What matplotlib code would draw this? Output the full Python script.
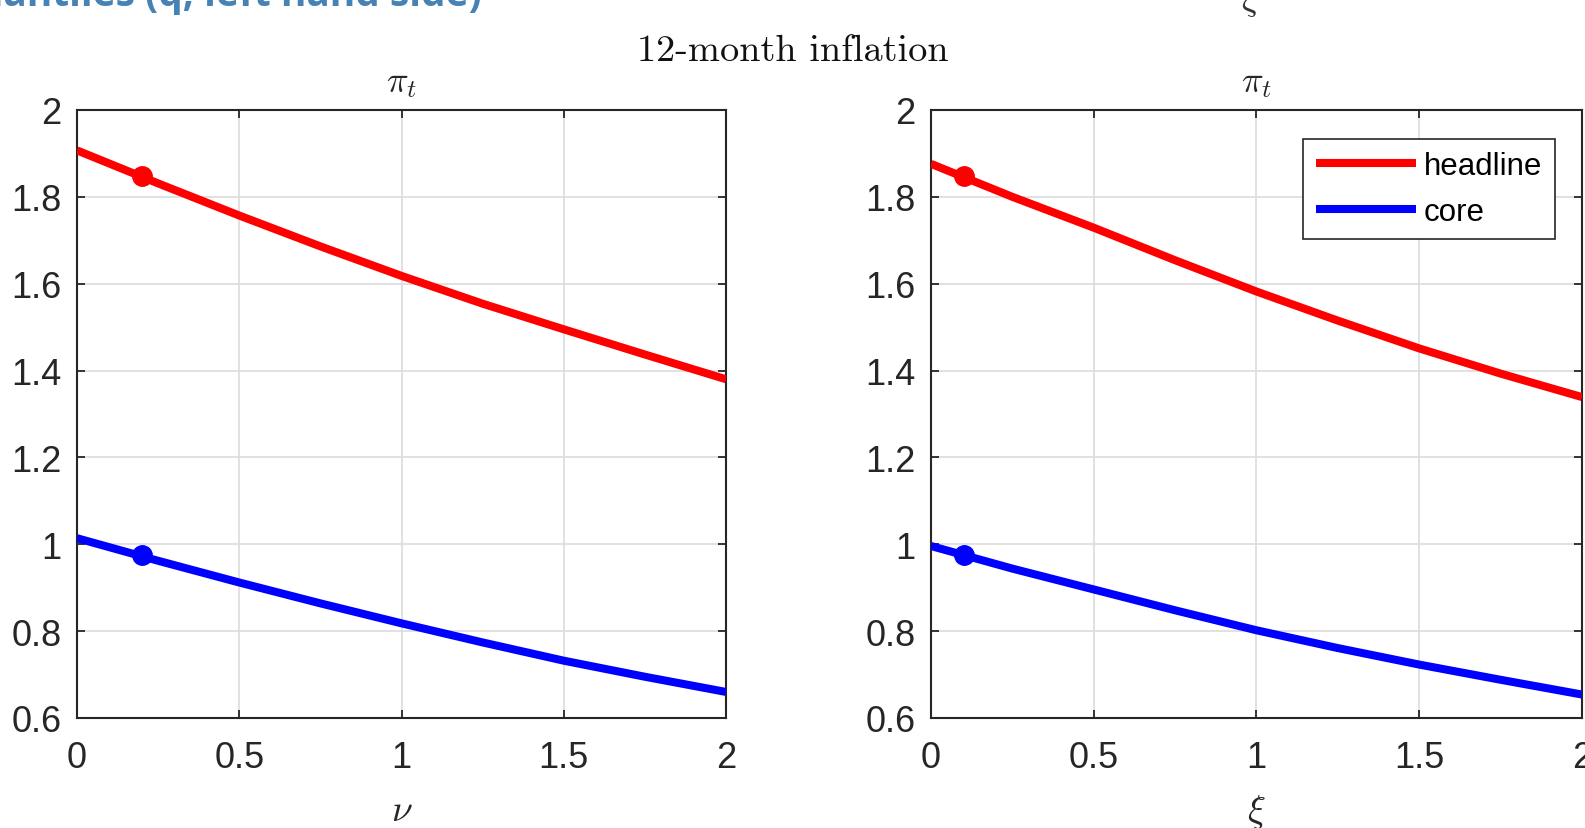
import matplotlib
matplotlib.use("Agg")
import matplotlib.pyplot as plt

plt.rcParams['mathtext.fontset'] = 'cm'
plt.rcParams['font.family'] = ['Liberation Sans', 'DejaVu Sans']

# ---- data ----
x_vals = [0.0, 0.25, 0.5, 0.75, 1.0, 1.25, 1.5, 1.75, 2.0]
nu_headline = [1.907, 1.831, 1.757, 1.686, 1.618, 1.554, 1.495, 1.437, 1.380]
nu_core = [1.014, 0.962, 0.912, 0.864, 0.818, 0.774, 0.732, 0.695, 0.660]
xi_headline = [1.876, 1.800, 1.729, 1.654, 1.582, 1.515, 1.451, 1.393, 1.339]
xi_core = [0.996, 0.944, 0.896, 0.848, 0.802, 0.761, 0.723, 0.688, 0.654]
nu_mark_x = 0.2
nu_mark_headline = 1.848
nu_mark_core = 0.975
xi_mark_x = 0.1
xi_mark_headline = 1.848
xi_mark_core = 0.975

xticks = [0, 0.5, 1, 1.5, 2]
xticklabels = ['0', '0.5', '1', '1.5', '2']
yticks = [0.6, 0.8, 1.0, 1.2, 1.4, 1.6, 1.8, 2.0]
yticklabels = ['0.6', '0.8', '1', '1.2', '1.4', '1.6', '1.8', '2']
series_labels = ['headline', 'core']
title = '12-month inflation'
panel_title = r'$\pi_t$'
xlabels = [r'$\nu$', r'$\xi$']

W, H = 1585, 829
fig = plt.figure(figsize=(W / 100, H / 100), dpi=100)

def rect(x0, y0, x1, y1):
    return [x0 / W, 1 - y1 / H, (x1 - x0) / W, (y1 - y0) / H]

ax1 = fig.add_axes(rect(77, 111, 726, 719))
ax2 = fig.add_axes(rect(931, 111, 1582, 719))

panels = [
    (ax1, nu_headline, nu_core, nu_mark_x, nu_mark_headline, nu_mark_core, xlabels[0]),
    (ax2, xi_headline, xi_core, xi_mark_x, xi_mark_headline, xi_mark_core, xlabels[1]),
]
spine_col = '#262626'
for ax, hd, cr, mx, mh, mc, xl in panels:
    ax.plot(x_vals, hd, color='#ff0000', lw=5.8, solid_capstyle='butt', zorder=3)
    ax.plot(x_vals, cr, color='#0000ff', lw=5.8, solid_capstyle='butt', zorder=3)
    ax.plot([mx], [mh], 'o', color='#ff0000', ms=14, zorder=4)
    ax.plot([mx], [mc], 'o', color='#0000ff', ms=14, zorder=4)
    ax.set_xlim(0, 2)
    ax.set_ylim(0.6, 2.0)
    ax.set_xticks(xticks)
    ax.set_xticklabels(xticklabels)
    ax.set_yticks(yticks)
    ax.set_yticklabels(yticklabels)
    ax.grid(True, color='#dcdcdc', lw=1.2)
    ax.set_axisbelow(True)
    ax.tick_params(direction='in', length=6, width=1.3, colors=spine_col,
                   labelsize=26, top=True, right=True)
    ax.tick_params(axis='x', pad=16)
    ax.tick_params(axis='y', pad=11)
    for s in ax.spines.values():
        s.set_color(spine_col)
        s.set_linewidth(1.5)
    ax.set_title(panel_title, fontsize=26, pad=14, color='#262626')
    ax.set_xlabel(xl, fontsize=27, labelpad=12, color='#262626')

leg = ax2.legend([ax2.lines[0], ax2.lines[1]], series_labels, loc='upper right',
                 bbox_to_anchor=(0.958, 0.953), fontsize=22.5, handlelength=3.2,
                 handletextpad=0.25, borderpad=0.4, labelspacing=0.5,
                 fancybox=False, framealpha=1, edgecolor='#262626', borderaxespad=0)
leg.get_frame().set_linewidth(1.2)

fig.text(793 / W, 1 - 51 / H, title, family='cmr10', fontsize=27.6,
         ha='center', va='center', color='#111111')

# cut-off text from the slide above
fig.text(482 / W, 1 - 6 / H, 'Quantiles (q, left hand side)', family='Open Sans',
         weight='bold', fontsize=28, color='#4682b4', ha='right', va='baseline')
fig.text(1250 / W, 1 - 19 / H, r'$\xi$', fontsize=26, ha='center', va='bottom',
         color='#333333')

fig.savefig('out.png', dpi=100)
